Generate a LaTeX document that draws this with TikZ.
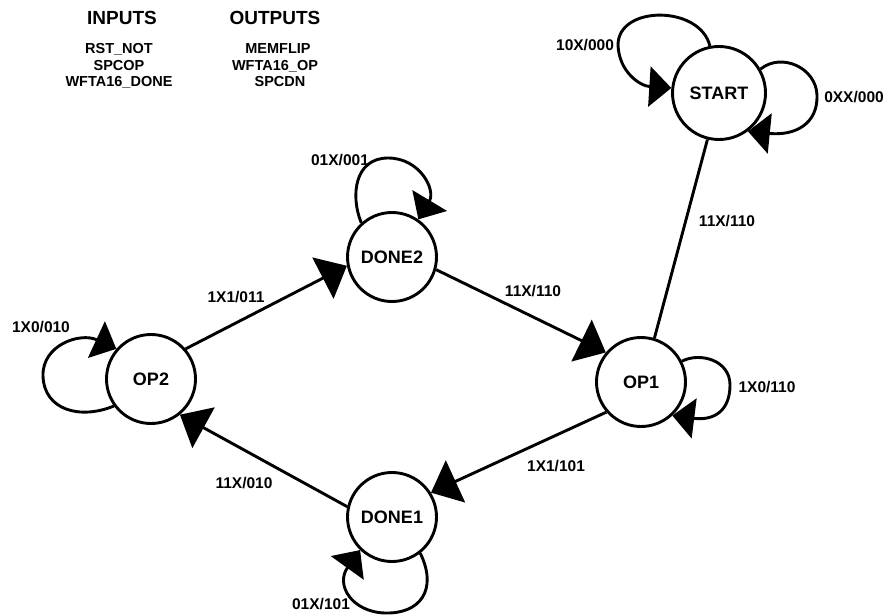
\documentclass[tikz,border=0pt]{standalone}
\usepackage{fontspec}
\setmainfont{Liberation Sans}
\usetikzlibrary{arrows.meta}
\tikzset{
  state/.style={circle,draw,line width=2.9pt,minimum size=89pt,inner sep=0pt,font=\fontsize{18}{20}\selectfont\bfseries},
  lbl/.style={inner sep=0pt,font=\fontsize{15.5}{17}\selectfont\bfseries},
  head/.style={inner sep=0pt,font=\fontsize{19}{21}\selectfont\bfseries},
  item/.style={inner sep=0pt,font=\fontsize{14.5}{16}\selectfont\bfseries},
  edge/.style={line width=2.9pt},
  arr/.style={line width=2.9pt,-{Triangle[length=22pt,width=40pt]}},
  bigarr/.style={line width=2.9pt,-{Triangle[length=27pt,width=46pt]}}
}
\begin{document}
\begin{tikzpicture}[x=1pt,y=-1pt]
\path[use as bounding box] (0,0) rectangle (893,615);
% legend
\node[head] (hin) at (122,18) {INPUTS};
\node[item] (i1) at (119,49) {RST\_NOT};
\node[item] (i2) at (119,66) {SPCOP};
\node[item] (i3) at (119,82) {WFTA16\_DONE};
\node[head] (hout) at (275,18) {OUTPUTS};
\node[item] (o1) at (278,49) {MEMFLIP};
\node[item] (o2) at (275,66) {WFTA16\_OP};
\node[item] (o3) at (280,82) {SPCDN};
% states
\node[state,minimum size=93pt] (start) at (719,93) {START};
\node[state] (done2) at (392,257) {DONE2};
\node[state] (op1) at (641,382) {OP1};
\node[state] (op2) at (151,379) {OP2};
\node[state] (done1) at (392,517) {DONE1};
% transitions
\draw[edge] (start.256) -- (op1.73);
\draw[bigarr] (op2.41) -- (done2.191);
\draw[bigarr] (done2.344) -- (op1.140);
\draw[bigarr] (op1.221) -- (done1.32);
\draw[bigarr] (done1.167) -- (op2.309);
% self loops
\draw[arr] (start.101) .. controls (700,5) and (618,5) .. (618,45) .. controls (619,72) and (640,86) .. (start.174);
\draw[arr] (start.30) .. controls (782,52) and (816,68) .. (817,95) .. controls (818,124) and (795,136) .. (start.307);
\draw[arr] (done2.132) .. controls (350,195) and (355,158) .. (388,158) .. controls (420,158) and (436,190) .. (done2.55);
\draw[arr] (op2.216) .. controls (80,420) and (44,410) .. (43,376) .. controls (42,345) and (80,332) .. (op2.139);
\draw[arr] (op1.27) .. controls (700,352) and (730,360) .. (730,385) .. controls (730,410) and (715,421) .. (op1.313);
\draw[arr] (done1.308) .. controls (438,590) and (420,614) .. (385,613) .. controls (352,612) and (335,585) .. (done1.226);
% labels
\node[lbl] (l1) at (585,45) {10X/000};
\node[lbl] (l2) at (854,97) {0XX/000};
\node[lbl] (l3) at (727,221) {11X/110};
\node[lbl] (l4) at (340,160) {01X/001};
\node[lbl] (l5) at (236,297) {1X1/011};
\node[lbl] (l6) at (533,291) {11X/110};
\node[lbl] (l7) at (41,327) {1X0/010};
\node[lbl] (l8) at (767,387) {1X0/110};
\node[lbl] (l9) at (244,483) {11X/010};
\node[lbl] (l10) at (556,466) {1X1/101};
\node[lbl] (l11) at (321,604) {01X/101};
\end{tikzpicture}
\end{document}
